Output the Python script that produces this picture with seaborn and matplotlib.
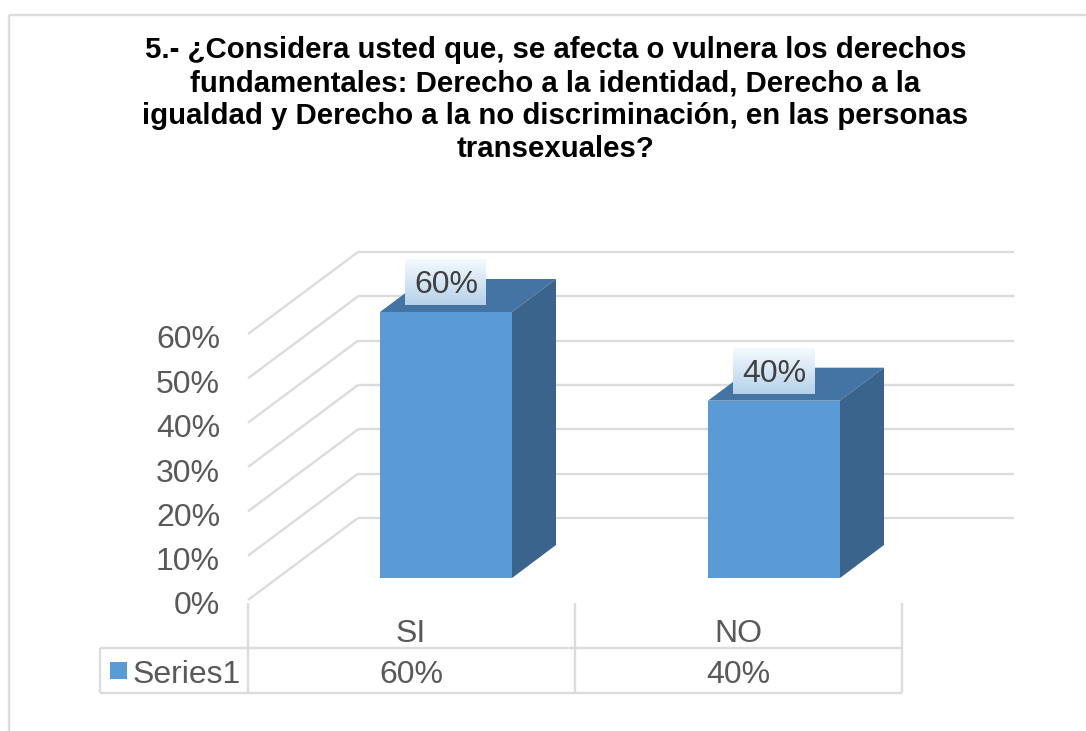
import numpy as np
import seaborn as sns
import matplotlib.pyplot as plt
from matplotlib.patches import Polygon, Rectangle

categories = ["SI", "NO"]
values = [0.60, 0.40]
series_name = "Series1"
y_ticks = [0, 0.1, 0.2, 0.3, 0.4, 0.5, 0.6]
title_lines = [
    "5.- ¿Considera usted que, se afecta o vulnera los derechos",
    "fundamentales: Derecho a la identidad, Derecho a la",
    "igualdad y Derecho a la no discriminación, en las personas",
    "transexuales?",
]

W, H = 1086, 731
FRONT = "#5b9bd5"
TOP = "#4374a3"
SIDE = "#3a648c"
GRID = "#dcdcdc"
TXT = "#595959"
FS = 23

sns.set_theme(style="white")
plt.rcParams["font.family"] = ["Liberation Sans", "DejaVu Sans"]

fig = plt.figure(figsize=(W / 100, H / 100), dpi=100)
ax = fig.add_axes([0, 0, 1, 1])

sns.barplot(x=categories, y=values, width=132 / 328, color=FRONT, saturation=1, ax=ax,
            zorder=3, linewidth=0, edgecolor="none")

# whole figure is one axes: category 0 sits at px 446, category 1 at px 774, 0% at px 578
ux = 328.0
uy = 266 / 0.6
ax.set_xlim(-446 / ux, (W - 446) / ux)
ax.set_ylim(-(H - 578) / uy, 578 / uy)
ax.axis("off")


def px(x):
    return (x - 446) / ux


def py(y):
    return (578 - y) / uy


def line(x0, y0, x1, y1, lw=1.7, z=1):
    ax.plot([px(x0), px(x1)], [py(y0), py(y1)], color=GRID, lw=lw, zorder=z,
            solid_capstyle="butt", clip_on=False)


# outer chart frame
line(8.5, 14.5, W, 14.5)
line(8.5, 14.5, 8.5, H)

# side wall and back wall gridlines
for t in y_ticks:
    d = t * uy
    line(248, 600 - d, 358, 518 - d)
    line(358, 518 - d, 1014, 518 - d)
    ax.text(px(220), py(606.5) + t, f"{t:.0%}", ha="right", va="center",
            fontsize=FS, color=TXT)

# 3d faces worked out from the bars seaborn drew
dx = 44 / ux
dy = 33 / uy
for bar in ax.patches[:len(values)]:
    x0, w, h = bar.get_x(), bar.get_width(), bar.get_height()
    ax.add_patch(Polygon([(x0, h), (x0 + w, h), (x0 + w + dx, h + dy), (x0 + dx, h + dy)],
                         color=TOP, lw=0, zorder=2))
    ax.add_patch(Polygon([(x0 + w, 0), (x0 + w + dx, dy), (x0 + w + dx, h + dy), (x0 + w, h)],
                         color=SIDE, lw=0, zorder=2))

# value labels on a light gradient box
grad = np.linspace(0, 1, 64).reshape(-1, 1)
c0 = np.array([0.96, 0.98, 1.0])
c1 = np.array([0.71, 0.82, 0.92])
img = c0 + (c1 - c0) * grad[..., None]
for i, v in enumerate(values):
    left = i - 41 / ux
    right = i + 40 / ux
    top = v + 53 / uy
    bottom = v + 7 / uy
    ax.imshow(img, extent=(left, right, bottom, top), aspect="auto", zorder=5, origin="upper")
    ax.text(i, (top + bottom) / 2 - 3 / uy, f"{v:.0%}", ha="center", va="center",
            fontsize=FS, color="#404040", zorder=6)
ax.set_xlim(-446 / ux, (W - 446) / ux)
ax.set_ylim(-(H - 578) / uy, 578 / uy)

# data table under the plot
for x in (248, 575, 902):
    line(x, 603, x, 693)
line(100, 648, 902, 648)
line(100, 693, 902, 693)
line(100, 648, 100, 693)

col_centers = [411, 738]
for c, lab, v in zip(col_centers, categories, values):
    ax.text(px(c), py(634), lab, ha="center", va="center", fontsize=FS, color=TXT)
    ax.text(px(c), py(675), f"{v:.0%}", ha="center", va="center", fontsize=FS, color=TXT)

ax.add_patch(Rectangle((px(110), py(679)), 17 / ux, 17 / uy, color=FRONT, lw=0, zorder=3))
ax.text(px(133), py(675), series_name, ha="left", va="center", fontsize=FS, color=TXT)

# title
for y, txt in zip((50, 83, 116, 149), title_lines):
    ax.text(px(555.5), py(y), txt, ha="center", va="center", fontsize=21.2,
            fontweight="bold", color="#000000")

fig.savefig("out.png", dpi=100, facecolor="white")
